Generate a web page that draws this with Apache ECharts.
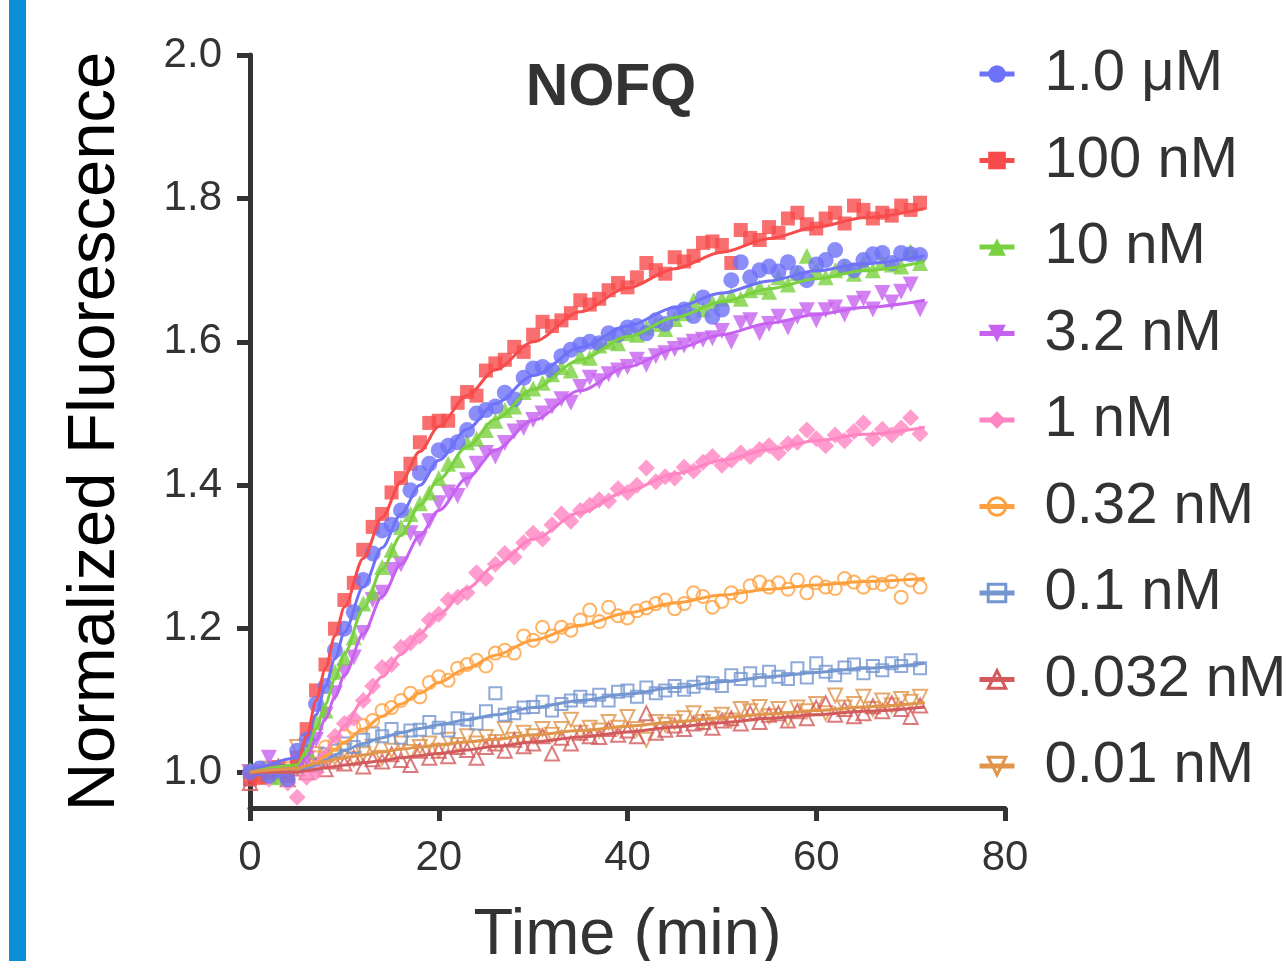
<!DOCTYPE html>
<html>
<head>
<meta charset="utf-8">
<script src="https://cdn.jsdelivr.net/npm/echarts@6/dist/echarts.min.js"></script>
<style>
  html, body { margin: 0; padding: 0; background: #fff; }
  #chart { width: 1288px; height: 961px; }
</style>
</head>
<body>
<div id="chart"></div>
<script>
// === DATA ===
const concentrations = ['1.0 μM', '100 nM', '10 nM', '3.2 nM', '1 nM', '0.32 nM', '0.1 nM', '0.032 nM', '0.01 nM'];

const times = [0, 1, 2, 3, 4, 5, 6, 7, 8, 9, 10, 11, 12, 13, 14, 15, 16, 17, 18, 19,
  20, 21, 22, 23, 24, 25, 26, 27, 28, 29, 30, 31, 32, 33, 34, 35, 36, 37, 38, 39,
  40, 41, 42, 43, 44, 45, 46, 47, 48, 49, 50, 51, 52, 53, 54, 55, 56, 57, 58, 59,
  60, 61, 62, 63, 64, 65, 66, 67, 68, 69, 70, 71];

const fluo_1uM = [1.0, 1.005, 0.995, 1.002, 0.99, 1.03, 1.045, 1.095, 1.12, 1.17,
  1.2, 1.223, 1.268, 1.305, 1.337, 1.345, 1.365, 1.393, 1.417, 1.43,
  1.449, 1.455, 1.46, 1.477, 1.50, 1.505, 1.51, 1.529, 1.52, 1.55,
  1.563, 1.565, 1.56, 1.58, 1.589, 1.596, 1.6, 1.598, 1.612, 1.61,
  1.62, 1.622, 1.612, 1.63, 1.625, 1.64, 1.645, 1.636, 1.662, 1.635,
  1.645, 1.686, 1.711, 1.69, 1.7, 1.705, 1.698, 1.711, 1.696, 1.686,
  1.708, 1.714, 1.728, 1.705, 1.7, 1.714, 1.722, 1.724, 1.71, 1.724,
  1.722, 1.721];

const fluo_100nM = [0.99, 0.992, 1.0, 1.007, 0.995, 1.02, 1.06, 1.114, 1.15, 1.2,
  1.24, 1.264, 1.31, 1.342, 1.36, 1.39, 1.41, 1.43, 1.46, 1.487,
  1.49, 1.49, 1.515, 1.53, 1.525, 1.56, 1.57, 1.575, 1.593, 1.586,
  1.61, 1.628, 1.622, 1.63, 1.64, 1.658, 1.652, 1.66, 1.672, 1.682,
  1.676, 1.69, 1.71, 1.70, 1.695, 1.718, 1.712, 1.72, 1.738, 1.74,
  1.735, 1.71, 1.756, 1.745, 1.742, 1.76, 1.752, 1.772, 1.78, 1.764,
  1.758, 1.772, 1.78, 1.765, 1.79, 1.784, 1.772, 1.78, 1.776, 1.79,
  1.784, 1.794];

const fluo_10nM = [1.003, 0.998, 1.0, 0.993, 0.997, 1.012, 1.031, 1.07, 1.086, 1.14,
  1.16, 1.188, 1.235, 1.25, 1.286, 1.31, 1.342, 1.36, 1.375, 1.39,
  1.41, 1.43, 1.435, 1.46, 1.465, 1.477, 1.49, 1.505, 1.51, 1.53,
  1.535, 1.543, 1.555, 1.565, 1.56, 1.58, 1.578, 1.595, 1.6, 1.598,
  1.612, 1.61, 1.62, 1.625, 1.618, 1.632, 1.64, 1.658, 1.645, 1.655,
  1.66, 1.665, 1.66, 1.672, 1.676, 1.67, 1.69, 1.68, 1.696, 1.72,
  1.70, 1.69, 1.70, 1.705, 1.695, 1.71, 1.70, 1.712, 1.708, 1.705,
  1.726, 1.71];

const fluo_3_2nM = [1.0, 0.996, 1.02, 1.0, 0.995, 1.005, 1.018, 1.045, 1.08, 1.11,
  1.14, 1.16, 1.194, 1.24, 1.25, 1.282, 1.29, 1.333, 1.325, 1.35,
  1.375, 1.39, 1.385, 1.407, 1.43, 1.445, 1.44, 1.459, 1.475, 1.48,
  1.491, 1.5, 1.51, 1.52, 1.515, 1.537, 1.55, 1.545, 1.555, 1.56,
  1.565, 1.575, 1.568, 1.58, 1.584, 1.59, 1.595, 1.6, 1.603, 1.605,
  1.615, 1.6, 1.626, 1.63, 1.612, 1.625, 1.635, 1.62, 1.635, 1.644,
  1.63, 1.644, 1.648, 1.638, 1.654, 1.66, 1.645, 1.668, 1.655, 1.67,
  1.68, 1.645];

const fluo_1nM = [0.998, 1.002, 0.99, 1.0, 0.985, 0.965, 0.993, 1.0, 1.021, 1.05,
  1.068, 1.075, 1.10, 1.12, 1.146, 1.15, 1.174, 1.18, 1.19, 1.212,
  1.22, 1.24, 1.244, 1.25, 1.278, 1.27, 1.29, 1.305, 1.30, 1.32,
  1.333, 1.325, 1.345, 1.36, 1.35, 1.365, 1.372, 1.38, 1.378, 1.395,
  1.39, 1.4, 1.424, 1.405, 1.412, 1.41, 1.425, 1.42, 1.432, 1.44,
  1.428, 1.435, 1.445, 1.44, 1.45, 1.455, 1.445, 1.458, 1.46, 1.477,
  1.465, 1.455, 1.47, 1.462, 1.475, 1.487, 1.465, 1.478, 1.47, 1.48,
  1.494, 1.472];

const fluo_0_32nM = [1.0, 0.995, 1.003, 0.998, 1.005, 1.01, 1.015, 1.02, 1.035, 1.04,
  1.05, 1.063, 1.065, 1.072, 1.086, 1.09, 1.1, 1.11, 1.105, 1.125,
  1.133, 1.128, 1.145, 1.15, 1.156, 1.148, 1.166, 1.17, 1.166, 1.19,
  1.184, 1.202, 1.19, 1.202, 1.198, 1.212, 1.226, 1.21, 1.23, 1.218,
  1.215, 1.225, 1.229, 1.235, 1.24, 1.228, 1.235, 1.25, 1.245, 1.23,
  1.238, 1.25, 1.245, 1.26, 1.265, 1.258, 1.264, 1.255, 1.268, 1.25,
  1.264, 1.258, 1.256, 1.27, 1.265, 1.258, 1.264, 1.262, 1.266, 1.244,
  1.268, 1.258];

const fluo_0_1nM = [0.99, 1.0, 1.005, 0.998, 1.0, 1.008, 1.015, 1.01, 1.025, 1.03,
  1.04, 1.035, 1.045, 1.054, 1.05, 1.06, 1.048, 1.058, 1.059, 1.07,
  1.062, 1.058, 1.075, 1.073, 1.068, 1.085, 1.11, 1.08, 1.082, 1.09,
  1.091, 1.098, 1.086, 1.095, 1.1, 1.105, 1.1, 1.108, 1.1, 1.112,
  1.114, 1.105, 1.118, 1.11, 1.114, 1.12, 1.115, 1.119, 1.125, 1.124,
  1.12, 1.135, 1.13, 1.138, 1.128, 1.14, 1.133, 1.13, 1.145, 1.132,
  1.152, 1.14, 1.135, 1.146, 1.15, 1.138, 1.148, 1.142, 1.152, 1.148,
  1.156, 1.145];

const fluo_0_032nM = [0.985, 1.0, 0.995, 1.008, 0.99, 1.005, 1.0, 1.01, 1.004, 1.015,
  1.012, 1.02, 1.008, 1.018, 1.015, 1.025, 1.017, 1.01, 1.03, 1.02,
  1.03, 1.022, 1.035, 1.031, 1.02, 1.035, 1.04, 1.03, 1.045, 1.036,
  1.04, 1.05, 1.026, 1.048, 1.04, 1.055, 1.05, 1.049, 1.06, 1.052,
  1.058, 1.05, 1.082, 1.055, 1.059, 1.065, 1.06, 1.068, 1.07, 1.062,
  1.072, 1.075, 1.068, 1.082, 1.07, 1.08, 1.082, 1.072, 1.085, 1.075,
  1.09, 1.096, 1.08, 1.088, 1.078, 1.082, 1.092, 1.085, 1.096, 1.088,
  1.077, 1.093];

const fluo_0_01nM = [1.0, 0.995, 1.005, 1.0, 0.998, 1.035, 1.02, 1.025, 1.015, 1.02,
  1.03, 1.018, 1.025, 1.035, 1.02, 1.03, 1.04, 1.028, 1.035, 1.04,
  1.03, 1.045, 1.038, 1.05, 1.04, 1.049, 1.042, 1.06, 1.045, 1.055,
  1.05, 1.06, 1.052, 1.06, 1.073, 1.055, 1.062, 1.058, 1.07, 1.062,
  1.077, 1.06, 1.045, 1.07, 1.066, 1.07, 1.075, 1.082, 1.07, 1.075,
  1.08, 1.072, 1.088, 1.085, 1.091, 1.078, 1.088, 1.074, 1.09, 1.085,
  1.095, 1.082, 1.107, 1.09, 1.095, 1.105, 1.088, 1.1, 1.093, 1.102,
  1.098, 1.105];

// fitted curves
const fitTimes = [0, 5, 6, 7, 8, 9, 10, 12, 14, 16, 18, 20, 23, 26, 30, 35, 40, 45, 50, 55, 60, 65, 71.5];
const fit_1uM = [1.0, 1.02, 1.045, 1.08, 1.12, 1.158, 1.195, 1.258, 1.313, 1.36, 1.40, 1.435, 1.478, 1.514, 1.553, 1.592, 1.622, 1.648, 1.668, 1.685, 1.699, 1.709, 1.72];
const fit_100nM = [1.0, 1.01, 1.05, 1.10, 1.145, 1.19, 1.23, 1.298, 1.355, 1.405, 1.447, 1.482, 1.525, 1.561, 1.60, 1.642, 1.675, 1.702, 1.725, 1.744, 1.76, 1.773, 1.786];
const fit_10nM = [1.0, 1.01, 1.03, 1.06, 1.095, 1.13, 1.165, 1.228, 1.283, 1.33, 1.372, 1.408, 1.454, 1.492, 1.534, 1.575, 1.607, 1.634, 1.656, 1.674, 1.688, 1.699, 1.712];
const fit_3_2nM = [1.0, 1.005, 1.02, 1.045, 1.075, 1.105, 1.135, 1.193, 1.245, 1.29, 1.33, 1.365, 1.41, 1.449, 1.491, 1.532, 1.565, 1.59, 1.61, 1.626, 1.638, 1.648, 1.658];
const fit_1nM = [1.0, 1.0, 1.005, 1.015, 1.03, 1.047, 1.065, 1.10, 1.133, 1.164, 1.193, 1.22, 1.256, 1.288, 1.325, 1.362, 1.392, 1.416, 1.435, 1.45, 1.462, 1.471, 1.481];
const fit_0_32nM = [1.0, 1.0, 1.005, 1.013, 1.022, 1.032, 1.042, 1.06, 1.078, 1.095, 1.11, 1.125, 1.145, 1.163, 1.184, 1.205, 1.222, 1.236, 1.247, 1.255, 1.261, 1.266, 1.27];
const fit_0_1nM = [1.0, 1.0, 1.005, 1.01, 1.017, 1.024, 1.03, 1.04, 1.048, 1.055, 1.061, 1.066, 1.073, 1.08, 1.09, 1.10, 1.109, 1.118, 1.126, 1.133, 1.139, 1.145, 1.152];
const fit_0_032nM = [1.0, 1.0, 1.002, 1.004, 1.006, 1.008, 1.01, 1.013, 1.016, 1.02, 1.023, 1.026, 1.031, 1.036, 1.042, 1.049, 1.056, 1.063, 1.069, 1.075, 1.08, 1.085, 1.091];
const fit_0_01nM = [1.0, 1.005, 1.009, 1.012, 1.015, 1.018, 1.02, 1.024, 1.028, 1.032, 1.035, 1.038, 1.042, 1.046, 1.052, 1.058, 1.064, 1.07, 1.076, 1.081, 1.086, 1.091, 1.097];

const yTicks = [1.0, 1.2, 1.4, 1.6, 1.8, 2.0];

// === STYLES ===
const FONT = '"Liberation Sans", Arial, Helvetica, sans-serif';
const INK = '#333';

const measured = [fluo_1uM, fluo_100nM, fluo_10nM, fluo_3_2nM, fluo_1nM, fluo_0_32nM, fluo_0_1nM, fluo_0_032nM, fluo_0_01nM];
const fitted = [fit_1uM, fit_100nM, fit_10nM, fit_3_2nM, fit_1nM, fit_0_32nM, fit_0_1nM, fit_0_032nM, fit_0_01nM];

const looks = [
  { color: '#6e72f8', symbol: 'circle', rotate: 0, open: false, size: 16 },
  { color: '#f84b4b', symbol: 'rect', rotate: 0, open: false, size: 14 },
  { color: '#7ad13f', symbol: 'triangle', rotate: 0, open: false, size: 16 },
  { color: '#c761ef', symbol: 'triangle', rotate: 180, open: false, size: 16 },
  { color: '#ff84c2', symbol: 'diamond', rotate: 0, open: false, size: 17 },
  { color: '#ffa03e', symbol: 'circle', rotate: 0, open: true, size: 13 },
  { color: '#7395d0', symbol: 'rect', rotate: 0, open: true, size: 12 },
  { color: '#d35a5c', symbol: 'triangle', rotate: 0, open: true, size: 14 },
  { color: '#e0954b', symbol: 'triangle', rotate: 180, open: true, size: 14 }
];

function markerStyle(look, border) {
  return look.open
    ? { color: 'rgba(0,0,0,0)', borderColor: look.color, borderWidth: border }
    : { color: look.color, borderWidth: 0 };
}

// === SERIES ===
// fit lines first so the legend icon shows line + marker
const fitSeries = concentrations.map((name, i) => ({
  name: name,
  type: 'line',
  data: fitTimes.map((t, j) => [t, fitted[i][j]]),
  showSymbol: false,
  symbol: looks[i].symbol,
  symbolRotate: looks[i].rotate,
  smooth: 0.3,
  smoothMonotone: 'x',
  lineStyle: { color: looks[i].color, width: 3 },
  itemStyle: { color: looks[i].color },
  z: 3,
  silent: true
}));

// scatter drawn in reverse so the top concentrations sit above
const pointSeries = concentrations.map((name, i) => ({
  name: name,
  type: 'scatter',
  data: times.map((t, j) => [t, measured[i][j]]),
  symbol: looks[i].symbol,
  symbolRotate: looks[i].rotate,
  symbolSize: looks[i].size,
  itemStyle: markerStyle(looks[i], 2)
})).reverse();

const legendData = concentrations.map((name, i) => ({
  name: name,
  itemStyle: markerStyle(looks[i], 3),
  lineStyle: { color: looks[i].color, width: 5 }
}));

// === RENDER ===
const chart = echarts.init(document.getElementById('chart'), null, { renderer: 'canvas' });

chart.setOption({
  animation: false,
  backgroundColor: '#fff',
  textStyle: { fontFamily: FONT },
  grid: { left: 250, right: 283, top: 55, bottom: 153, containLabel: false, outerBoundsMode: 'none' },
  xAxis: {
    type: 'value',
    min: 0,
    max: 80,
    interval: 20,
    name: 'Time (min)',
    nameLocation: 'middle',
    nameGap: 96,
    nameTextStyle: { fontSize: 65, color: INK, lineHeight: 65, fontFamily: FONT },
    axisLine: { show: true, onZero: false, lineStyle: { color: INK, width: 5 } },
    axisTick: { show: true, length: 13, lineStyle: { color: INK, width: 5 } },
    axisLabel: { fontSize: 42, color: INK, margin: 29, lineHeight: 42, fontFamily: FONT },
    splitLine: { show: false }
  },
  yAxis: {
    type: 'value',
    min: 0.95,
    max: 2.0,
    name: 'Normalized Fluorescence',
    nameLocation: 'middle',
    nameGap: 121,
    nameTextStyle: { fontSize: 67, color: '#000', lineHeight: 67, fontFamily: FONT },
    axisLine: { show: true, onZero: false, lineStyle: { color: INK, width: 5 } },
    axisTick: { show: true, length: 13, customValues: yTicks, lineStyle: { color: INK, width: 5 } },
    axisLabel: {
      customValues: yTicks,
      formatter: v => v.toFixed(1),
      fontSize: 42, color: INK, margin: 28, fontFamily: FONT
    },
    splitLine: { show: false }
  },
  legend: {
    data: legendData,
    orient: 'vertical',
    left: 977,
    top: 33,
    itemWidth: 35,
    itemHeight: 22,
    itemGap: 4.5,
    padding: 0,
    selectedMode: false,
    textStyle: { fontSize: 58, color: INK, lineHeight: 56, padding: [0, 0, 26, 25], fontFamily: FONT }
  },
  graphic: [
    { type: 'rect', shape: { x: 9, y: 0, width: 17, height: 961 }, style: { fill: '#0a8fd6' }, silent: true },
    {
      type: 'text', x: 611, y: 89, silent: true,
      style: { text: 'NOFQ', font: 'bold 59px ' + FONT, fill: INK, align: 'center', verticalAlign: 'middle' }
    }
  ],
  series: [...fitSeries, ...pointSeries]
});
</script>
</body>
</html>
